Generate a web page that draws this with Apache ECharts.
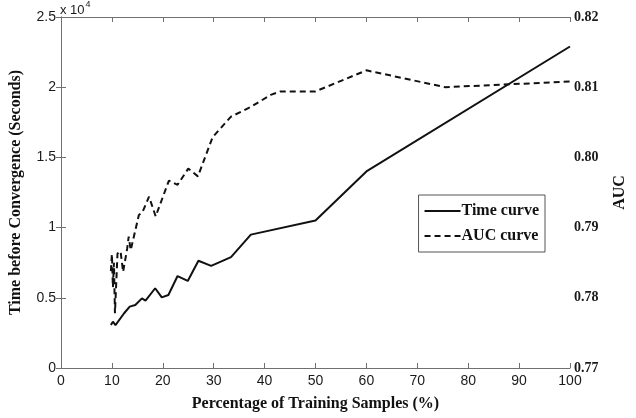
<!DOCTYPE html>
<html>
<head>
<meta charset="utf-8">
<script src="https://cdn.jsdelivr.net/npm/echarts@6/dist/echarts.min.js"></script>
<style>
  html, body { margin: 0; padding: 0; background: #fff; }
  #chart { width: 636px; height: 418px; }
</style>
</head>
<body>
<div id="chart"></div>
<script>
// Percentage of training samples and the convergence time (seconds)
const timePct = [9.8, 10.2, 10.7, 12.4, 13.5, 14.6, 15.9, 16.6, 18.5, 19.8, 21.1, 22.9, 24.9, 27.0, 29.5, 33.4, 37.3, 50, 60, 100];
const timeSec = [3060, 3300, 3060, 3900, 4370, 4490, 4960, 4800, 5680, 5030, 5200, 6550, 6200, 7640, 7270, 7900, 9500, 10500, 14000, 22900];

// Percentage of training samples and the resulting AUC
const aucPct = [9.8, 10.0, 10.2, 10.4, 10.6, 11.1, 11.7, 12.2, 13.0, 13.3, 13.7, 15.3, 16.0, 17.3, 18.6, 21.2, 22.9, 25.0, 26.9, 29.8, 33.4, 37.3, 41.2, 43.1, 50, 60, 75.5, 100];
const aucVal = [0.7838, 0.7862, 0.7815, 0.7850, 0.7778, 0.7863, 0.7866, 0.7837, 0.7870, 0.7887, 0.7868, 0.7918, 0.7922, 0.7944, 0.7916, 0.7967, 0.7961, 0.7984, 0.7973, 0.8029, 0.8058, 0.8072, 0.8089, 0.8094, 0.8094, 0.8124, 0.8100, 0.8108];

const xTicks = [0, 10, 20, 30, 40, 50, 60, 70, 80, 90, 100];
const timeTicks = ['0', '0.5', '1', '1.5', '2', '2.5'];
const aucTicks = ['0.77', '0.78', '0.79', '0.80', '0.81', '0.82'];

const axisGray = '#707070';
const serif = '"Liberation Serif", "Times New Roman", serif';
const sans = '"Liberation Sans", Arial, sans-serif';

const chart = echarts.init(document.getElementById('chart'), null, { renderer: 'canvas' });

const option = {
  animation: false,
  backgroundColor: '#fff',
  grid: { left: 58, right: 63, top: 17, bottom: 50, containLabel: false },
  legend: {
    right: 91, top: 195,
    orient: 'vertical',
    itemWidth: 36, itemHeight: 10, itemGap: 9,
    padding: [8, 6, 8, 5],
    borderColor: '#555', borderWidth: 1,
    backgroundColor: '#fff',
    itemStyle: { opacity: 0 },
    textStyle: { fontFamily: serif, fontWeight: 'bold', fontSize: 16, color: '#111', padding: [0, 0, 0, -4] },
    data: ['Time curve', 'AUC curve']
  },
  xAxis: [
    {
      type: 'value', min: 0, max: 100, interval: 10, position: 'bottom',
      axisLine: { show: true, lineStyle: { color: axisGray, width: 1 } },
      axisTick: { show: true, inside: true, length: 5, lineStyle: { color: axisGray } },
      axisLabel: {
        fontFamily: sans, fontSize: 14, color: '#1a1a1a', margin: 6,
        formatter: v => (xTicks.indexOf(v) >= 0 ? String(v) : '')
      },
      splitLine: { show: false },
      name: 'Percentage of Training Samples (%)',
      nameLocation: 'middle', nameGap: 28,
      nameTextStyle: { fontFamily: serif, fontWeight: 'bold', fontSize: 16, color: '#111' }
    },
    {
      type: 'value', min: 0, max: 100, interval: 10, position: 'top',
      axisLine: { show: true, lineStyle: { color: axisGray, width: 1 } },
      axisTick: { show: true, inside: true, length: 5, lineStyle: { color: axisGray } },
      axisLabel: { show: false },
      splitLine: { show: false }
    }
  ],
  yAxis: [
    {
      type: 'value', min: 0, max: 25000, interval: 5000, position: 'left',
      axisLine: { show: true, lineStyle: { color: axisGray, width: 1 } },
      axisTick: { show: true, inside: true, length: 5, lineStyle: { color: axisGray } },
      axisLabel: {
        fontFamily: sans, fontSize: 14, color: '#1a1a1a', margin: 5,
        formatter: v => timeTicks[Math.round(v / 5000)]
      },
      splitLine: { show: false },
      name: 'Time before Convergence (Seconds)',
      nameLocation: 'middle', nameGap: 37, nameRotate: 90,
      nameTextStyle: { fontFamily: serif, fontWeight: 'bold', fontSize: 16, color: '#111' }
    },
    {
      type: 'value', min: 0.77, max: 0.82, interval: 0.01, position: 'right',
      axisLine: { show: true, lineStyle: { color: axisGray, width: 1 } },
      axisTick: { show: true, inside: true, length: 5, lineStyle: { color: axisGray } },
      axisLabel: {
        fontFamily: serif, fontWeight: 'bold', fontSize: 14, color: '#1a1a1a', margin: 4,
        formatter: v => aucTicks[Math.round((v - 0.77) / 0.01)]
      },
      splitLine: { show: false },
      name: 'AUC',
      nameLocation: 'middle', nameGap: 42, nameRotate: 90,
      nameTextStyle: { fontFamily: serif, fontWeight: 'bold', fontSize: 16, color: '#111' }
    }
  ],
  graphic: [
    {
      type: 'text', left: 60, top: 0,
      style: {
        text: '{b|x 10}{s|4}',
        rich: {
          b: { fontFamily: sans, fontSize: 13, fill: '#1a1a1a', verticalAlign: 'bottom' },
          s: { fontFamily: sans, fontSize: 9, fill: '#1a1a1a', verticalAlign: 'top', padding: [0, 0, 8, 1] }
        }
      }
    }
  ],
  series: [
    {
      name: 'Time curve', type: 'line', xAxisIndex: 0, yAxisIndex: 0,
      data: timePct.map((p, i) => [p, timeSec[i]]),
      symbol: 'none',
      lineStyle: { color: '#111', width: 2, type: 'solid' },
      itemStyle: { color: '#111' }
    },
    {
      name: 'AUC curve', type: 'line', xAxisIndex: 0, yAxisIndex: 1,
      data: aucPct.map((p, i) => [p, aucVal[i]]),
      symbol: 'none',
      lineStyle: { color: '#111', width: 2, type: [6, 4] },
      itemStyle: { color: '#111' }
    }
  ]
};

chart.setOption(option);
</script>
</body>
</html>
